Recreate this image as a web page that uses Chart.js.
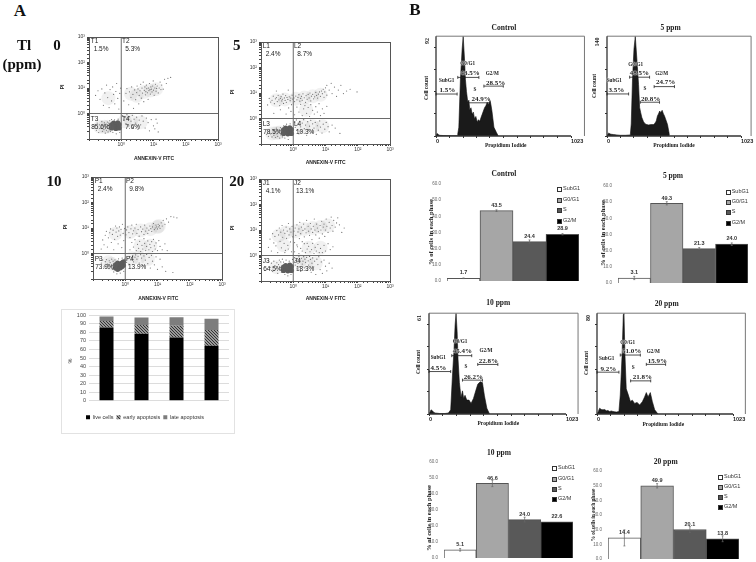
<!DOCTYPE html>
<html><head><meta charset="utf-8">
<script src="https://cdn.jsdelivr.net/npm/chart.js@4"></script>
<style>
html,body{margin:0;padding:0;background:#fff}
#page{position:absolute;left:0;top:0;width:756px;height:562px;overflow:hidden;background:#fff;filter:blur(0.3px)}
canvas{position:absolute}
.t{position:absolute;white-space:nowrap;line-height:1;color:#222}
.sw{position:absolute;width:3px;height:3px;border:0.8px solid #333}
.bx{position:absolute;border:1px solid #e2e2e2}
</style></head><body><div id="page"></div>
<script>
// ---------- Panel A: flow cytometry quadrants (PI vs Annexin-V)
const p0Sparse=[[1.2,3.1],[1.4,6.2],[1.5,9.5],[1.7,2.2],[1.8,7.1],[2.0,4.3],[2.1,11],[2.3,5.6],[2.4,1.6],[2.6,8.4],[2.8,3.5],[3.0,6.6],[3.1,12],[3.3,9.2],[3.5,2.4],[3.6,5.1],[3.8,7.8],[4.0,14],[4.2,4.0],[4.4,9.9],[4.6,6.3],[4.8,17],[5.0,2.9],[5.2,8.1],[5.4,11],[5.6,5.4],[5.8,7.2],[6.0,13],[6.2,9.4],[6.5,6.5],[6.8,3.6],[7.0,10],[7.2,7.9],[7.5,15],[7.8,8.6],[8.0,5.8],[8.3,11],[8.6,9.0],[9,7],[9.4,12],[9.8,19],[10,8.2],[10.5,5.2],[11,10],[11.5,14],[12,7.5],[12.5,9.6],[13,12],[14,6.4],[15,10],[16,17],[17,8.7],[18,13],[20,9],[22,22],[25,15],[28,24],[34,26],
[0.16,5.1],[0.19,7.8],[0.22,3.6],[0.25,9.2],[0.28,2.1],[0.31,6.4],[0.35,13],[0.38,4.2],[0.42,1.7],[0.45,8.7],[0.5,3.1],[0.54,11],[0.58,5.6],[0.63,2.4],[0.68,7.3],[0.72,15],[0.78,3.9],[0.84,1.5],[0.9,6.1],[0.96,9.8],
[1.1,0.82],[1.2,0.55],[1.3,0.7],[1.4,0.4],[1.5,0.9],[1.6,0.62],[1.7,0.33],[1.8,0.75],[2.0,0.5],[2.2,0.85],[2.3,0.28],[2.5,0.6],[2.8,0.42],[3.0,0.72],[3.3,0.24],[3.6,0.55],[4,0.36],[4.4,0.8],[4.8,0.5],[5.5,0.27],[6,0.66],[6.8,0.44],[7.5,0.21],[8.5,0.58],[10,0.33],[11,0.25],[12,0.6],[13,0.42],[14,0.19],
[0.15,0.31],[0.17,0.22],[0.18,0.42],[0.2,0.18],[0.21,0.36],[0.23,0.27],[0.25,0.48],[0.26,0.2],[0.28,0.33],[0.29,0.24],[0.3,0.43],[0.32,0.17],[0.33,0.29],[0.34,0.38],[0.35,0.22],[0.37,0.46],[0.38,0.26],[0.39,0.19],[0.4,0.34],[0.41,0.42],[0.42,0.23],[0.44,0.52],[0.46,0.2],[0.5,0.58],[0.55,0.18],[0.62,0.56],[0.7,0.16],[0.8,0.6],[0.9,0.18]];
const p0Core=[[0.5,0.27],[0.5,0.36],[0.58,0.3],[0.58,0.42],[0.68,0.26],[0.68,0.36],[0.78,0.31],[0.78,0.43],[0.86,0.27],[0.86,0.37]];
const p0Haze=[[8,8],[5,7],[12,9],[3,5],[2,6],[0.4,4],[2,0.5],[4,0.45],[0.3,0.3],[0.22,0.3],[0.38,0.3],[1.3,0.5]];

const p5Sparse=[[0.16,3.4],[0.18,6.1],[0.2,4.4],[0.22,5.2],[0.24,7.5],[0.26,3.8],[0.28,5.9],[0.3,6.6],[0.32,4.6],[0.34,8.1],[0.36,5.4],[0.38,3.2],[0.4,6.2],[0.42,7.2],[0.44,4.9],[0.46,5.7],[0.48,9.1],[0.5,3.9],[0.53,6.4],[0.56,5.1],[0.58,7.9],[0.61,4.3],[0.64,6.7],[0.68,5.6],[0.72,2.6],[0.75,7.1],[0.8,5],[0.84,6.3],[0.88,3.5],[0.92,8.2],[0.96,5.8],[0.25,1.6],[0.4,2.2],[0.6,1.5],[0.85,1.9],[0.3,12],[0.7,13],
[1.05,6.4],[1.1,4.6],[1.2,7.6],[1.3,5.4],[1.4,6.7],[1.5,8.6],[1.6,4.8],[1.7,6.1],[1.8,7.4],[1.9,5.2],[2.0,9.3],[2.2,6.5],[2.4,4.3],[2.5,7.9],[2.7,5.7],[2.9,8.8],[3.1,6.4],[3.3,10],[3.5,4.9],[3.7,7.5],[4,8.9],[4.3,5.9],[4.6,7.1],[5,10.5],[5.3,8.0],[5.7,6.3],[6,9],[6.5,11],[7,7.4],[7.5,12],[8,9.4],[8.5,14],[9,6.8],[9.5,11],[10,16],[11,20],[11,8.2],[13,13],[15,24],[16,9.5],[19,17],[22,7.4],[25,13],[30,20],[36,9.5],[45,12],[58,14],[95,11],
[1.1,1.4],[1.3,2.8],[1.5,1.8],[1.7,3.6],[1.9,1.3],[2.1,2.4],[2.3,3.2],[2.6,1.6],[2.9,2.7],[3.2,1.2],[3.5,3.5],[4,2.1],[4.5,1.5],[5,2.9],[5.6,1.8],[6.3,3.8],[7,1.3],[8,2.4],[9,1.6],[11,3],
[1.1,0.72],[1.15,0.45],[1.25,0.88],[1.3,0.34],[1.4,0.6],[1.5,0.25],[1.6,0.78],[1.7,0.47],[1.8,0.31],[1.9,0.66],[2.1,0.9],[2.2,0.4],[2.4,0.55],[2.6,0.22],[2.8,0.75],[3,0.36],[3.2,0.5],[3.5,0.85],[3.8,0.28],[4,0.62],[4.4,0.42],[4.8,0.7],[5.2,0.24],[5.6,0.52],[6,0.35],[6.6,0.8],[7,0.46],[7.8,0.27],[8.5,0.6],[9.5,0.38],[10.5,0.7],[12,0.48],[13,0.3],[16,0.55],[20,0.42],[28,0.26],
[0.15,0.24],[0.17,0.2],[0.18,0.32],[0.2,0.25],[0.22,0.19],[0.23,0.37],[0.25,0.22],[0.26,0.3],[0.28,0.18],[0.3,0.42],[0.31,0.25],[0.33,0.2],[0.34,0.35],[0.36,0.28],[0.38,0.17],[0.4,0.44],[0.41,0.23],[0.43,0.32],[0.46,0.19],[0.5,0.52],[0.55,0.17],[0.62,0.6],[0.7,0.15],[0.8,0.62]];
const p5Core=[[0.5,0.26],[0.5,0.36],[0.58,0.3],[0.58,0.42],[0.68,0.25],[0.68,0.36],[0.78,0.3],[0.78,0.43],[0.88,0.26],[0.88,0.37]];
const p5Haze=[[0.3,5.2],[0.55,5.6],[1.2,6],[2.2,6.6],[4,7.4],[7,8.5],[2.5,2.2],[2,0.5],[4,0.5],[8,0.5],[0.3,0.27],[0.22,0.26],[0.38,0.28]];

const p10Sparse=[[0.18,1.5],[0.2,3.4],[0.22,2.2],[0.24,5.2],[0.26,7.4],[0.28,1.8],[0.3,4.1],[0.33,6.5],[0.35,9.2],[0.37,2.7],[0.4,5.6],[0.42,8.2],[0.44,1.4],[0.47,3.6],[0.5,12],[0.52,6.9],[0.55,10],[0.58,4.7],[0.6,2.4],[0.63,7.7],[0.66,11],[0.7,5.3],[0.74,8.9],[0.78,1.7],[0.82,14],[0.86,6.1],[0.9,3.2],[0.95,9.5],
[1.05,5.4],[1.1,8.4],[1.2,11],[1.3,6.6],[1.4,4.2],[1.5,9.3],[1.6,13],[1.7,5.9],[1.8,7.8],[2,10],[2.2,14],[2.3,6.2],[2.5,8.7],[2.7,4.8],[3,11],[3.2,7.2],[3.5,9.1],[3.8,5.6],[4,13],[4.3,7.6],[4.7,10],[5,6.2],[5.4,8.2],[5.8,12],[6.2,9.4],[6.6,7.3],[7,11],[7.5,15],[8,8.7],[8.5,10],[9,13],[9.5,11],[10,9.2],[10.5,14],[11,11],[11.5,12.5],[12,9.7],[13,16],[14,12],[15,20],[17,14],[19,23],[22,17],[26,28],[32,27],[40,25],
[1.4,1.4],[1.6,2.7],[1.8,1.8],[2,3.5],[2.2,1.3],[2.4,2.3],[2.6,1.6],[2.8,3],[3,1.2],[3.3,2.1],[3.5,1.5],[3.8,3.8],[4,2.5],[4.3,1.3],[4.6,1.9],[5,3.1],[5.4,1.4],[5.8,2.3],[6.2,1.7],[6.6,2.9],[7,1.2],[7.5,3.6],[8,2],[8.5,1.5],[9,2.6],[10,1.3],[11,3.2],[12,1.9],[14,1.4],[17,2.4],[20,1.3],
[1.1,0.45],[1.2,0.62],[1.3,0.38],[1.4,0.75],[1.5,0.55],[1.6,0.68],[1.7,0.82],[1.8,0.47],[2,0.72],[2.1,0.88],[2.3,0.6],[2.5,0.78],[2.7,0.42],[3,0.9],[3.2,0.66],[3.5,0.34],[3.8,0.8],[4.2,0.55],[4.6,0.92],[5,0.4],[5.5,0.7],[6,0.27],[6.5,0.85],[7,0.5],[8,0.36],[9,0.74],[10,0.24],[12,0.6],[14,0.3],[18,0.2],[30,0.18],
[0.16,0.62],[0.18,0.42],[0.2,0.55],[0.22,0.3],[0.24,0.48],[0.26,0.58],[0.28,0.38],[0.3,0.26],[0.32,0.52],[0.34,0.44],[0.36,0.32],[0.38,0.6],[0.4,0.24],[0.42,0.5],[0.44,0.19],[0.48,0.56],[0.55,0.16],[0.62,0.62],[0.7,0.17],[0.8,0.66],[0.9,0.2],[0.95,0.6]];
const p10Core=[[0.5,0.27],[0.5,0.36],[0.58,0.24],[0.58,0.33],[0.58,0.42],[0.68,0.27],[0.68,0.37],[0.78,0.3],[0.78,0.42],[0.88,0.35],[0.88,0.47]];
const p10Haze=[[0.5,6],[1.4,7],[3,8],[6,9],[10,11],[11,12],[3,2],[6,2],[1.6,0.65],[2.6,0.7],[5,0.6],[0.3,0.45],[0.38,0.4]];

const p20Sparse=[[0.17,2.1],[0.19,4.4],[0.21,1.5],[0.23,7.2],[0.25,3.1],[0.27,5.6],[0.29,2.4],[0.31,9.5],[0.33,1.3],[0.35,6.4],[0.37,12],[0.39,3.6],[0.41,8.2],[0.43,2],[0.45,15],[0.47,5.2],[0.5,10],[0.52,3],[0.55,7.4],[0.57,1.6],[0.6,13],[0.62,4.7],[0.65,9.1],[0.68,2.5],[0.71,18],[0.74,6.4],[0.78,11],[0.82,3.4],[0.85,8.3],[0.88,1.4],[0.92,14],[0.96,5.4],
[1.05,9],[1.1,3.2],[1.15,12],[1.2,6.2],[1.3,16],[1.35,2.2],[1.4,8.4],[1.5,11],[1.55,4.6],[1.6,20],[1.7,7.2],[1.8,13],[1.9,3.5],[2,9.6],[2.1,17],[2.2,5.4],[2.3,11],[2.5,7.8],[2.6,24],[2.7,3],[2.9,14],[3,9],[3.2,6.2],[3.4,18],[3.6,11],[3.8,4.2],[4,8],[4.2,14],[4.5,27],[4.7,10],[5,6.4],[5.3,17],[5.6,12],[6,8.7],[6.4,4.8],[6.8,15],[7.2,10],[7.6,22],[8,7],[8.5,13],[9,17],[9.5,5.6],[10,10],[10.5,27],[11,14],[12,8],[13,20],[14,12],[15,32],[16,15],[17,9],[18,24],[20,13],[22,19],[24,30],[27,16],[32,8],[38,12],
[0.55,1.3],[0.7,1.8],[1.1,1.4],[1.3,2.6],[1.5,1.2],[1.7,1.9],[1.9,1.5],[2.2,2.9],[2.4,1.3],[2.7,1.8],[3,2.3],[3.3,1.4],[3.7,1.7],[4,3],[4.4,1.2],[4.8,2.1],[5.2,1.5],[5.8,2.7],[6.4,1.3],[7,1.9],[8,1.3],[9,2.5],[10,1.5],[12,2.9],[14,1.7],[17,2.2],
[1.1,0.82],[1.15,0.42],[1.2,0.64],[1.3,0.3],[1.35,0.75],[1.4,0.5],[1.5,0.9],[1.55,0.36],[1.6,0.66],[1.7,0.24],[1.8,0.78],[1.9,0.46],[2,0.6],[2.1,0.9],[2.2,0.33],[2.3,0.72],[2.4,0.54],[2.6,0.84],[2.7,0.27],[2.9,0.62],[3,0.42],[3.2,0.92],[3.4,0.7],[3.6,0.22],[3.8,0.5],[4,0.8],[4.3,0.36],[4.6,0.6],[5,0.18],[5.4,0.72],[5.8,0.44],[6.2,0.9],[6.8,0.28],[7.4,0.56],[8,0.2],[9,0.66],[10,0.38],[11,0.25],[13,0.5],[16,0.32],
[0.17,0.62],[0.19,0.34],[0.21,0.5],[0.23,0.24],[0.25,0.6],[0.27,0.4],[0.29,0.3],[0.31,0.52],[0.33,0.2],[0.35,0.44],[0.37,0.66],[0.39,0.28],[0.41,0.56],[0.43,0.22],[0.46,0.72],[0.5,0.55],[0.55,0.18],[0.6,0.66],[0.68,0.16],[0.75,0.6],[0.85,0.18],[0.95,0.7]];
const p20Core=[[0.5,0.26],[0.5,0.35],[0.58,0.3],[0.58,0.4],[0.68,0.25],[0.68,0.35],[0.78,0.3],[0.78,0.42],[0.88,0.26],[0.88,0.37]];
const p20Haze=[[0.35,6],[0.6,8],[1.2,9],[2.2,11],[4,12],[7,13],[12,15],[0.5,2.5],[3,2],[7,2],[1.6,0.6],[2.6,0.55],[5,0.5],[0.3,0.35]];

const quadNames=[["T1","T2","T3","T4"],["L1","L2","L3","L4"],["P1","P2","P3","P4"],["J1","J2","J3","J4"]];
const quadPct=[["1.5%","5.3%","85.6%","7.6%"],["2.4%","8.7%","78.5%","10.3%"],["2.4%","9.8%","73.9%","13.9%"],["4.1%","13.1%","64.5%","18.3%"]];
const doseMarks=["0","5","10","20"];

// ---------- Panel A: stacked bars
const doseCats=["0 ppm","5 ppm","10 ppm","20 ppm"];
const liveCells=[85.6,78.5,73.9,64.5];
const earlyApop=[7.6,10.3,13.9,18.3];
const lateApop=[5.3,8.7,9.8,13.1];

// ---------- Panel B: DNA histograms (channel, count)
const ctlCh=[0,6,14,20,30,60,120,160,165,173,185,198,206,216,223,231,241,249,256,265,274,283,292,302,312,322,332,341,350,359,368,378,388,398,409,416,424,439,459,472];
const ctlCt=[1,2,2,1,0.6,0.4,0.3,0.3,2,8,52,80,92,71,52,41,31,33,24,26,20,22,16,18,13,15,13.5,17,20,23,26,28,31,29,33,29,23,8,3,0];
const p5Ch=[0,6,13,30,50,75,100,140,178,185,195,206,216,228,241,249,257,266,279,292,304,317,336,355,366,376,385,393,402,411,421,431,439,447,462,477];
const p5Ct=[1,3,4,2.5,2,1.5,1,1,1.5,17,81,122,140,108,72,40,33,26,20,17,16,15.5,16,16,18,21,28,31,35,33,36,31,28,24,16,1];
const p10Ch=[0,8,15,25,35,45,80,120,145,162,175,187,195,202,210,217,227,239,250,259,269,282,299,314,332,349,364,382,399,414,432,452];
const p10Ct=[0.5,1,2.5,2,1,0.6,0.3,0.3,0.6,2.5,23,39,54,61,50,33,19,10,14,9.4,11.3,8.4,8.4,6.4,9.4,14,18,19.5,19,11,3.5,0];
const p20Ch=[0,10,20,32,45,58,70,82,95,108,120,132,145,165,175,188,198,203,210,220,236,251,266,283,301,321,341,358,371,384,401,416,434,459];
const p20Ct=[0,2,4.6,3.6,3.3,3.5,2.5,2.8,2,2.4,2,1.8,1.5,2,15,45,79,80,48,20,15,10,11,8.4,9.2,7.2,9.7,13.5,17,13.5,17,10,3.3,0];

const histTitles=["Control","5 ppm","10 ppm","20 ppm"];
const histMax=[92,140,61,80];
const gateNames=["SubG1","G0/G1","S","G2/M"];
const ctlGates=[[0,160,38.7],[165,325,54],[241,409,30.6],[363,510,46]];
const p5Gates=[[0,165,59],[173,325,82.5],[254,401,47.4],[360,515,69.3]];
const p10Gates=[[0,162,25.7],[170,319,35.3],[250,399,20.5],[364,514,30]];
const p20Gates=[[0,165,33.2],[175,326,46.8],[253,404,26.3],[371,516,39.4]];
const gatePct=[["1.5%","43.5%","24.9%","28.5%"],["3.5%","48.5%","20.8%","24.7%"],["4.5%","45.4%","26.2%","22.8%"],["9.2%","51.0%","21.8%","15.9%"]];
const channelTicks=[0,102,205,307,409,512,614,716,818,921,1023];

// ---------- Panel B: phase bars
const phases=["SubG1","G0/G1","S","G2/M"];
const ctlPhase=[1.7,43.5,24.4,28.9];
const p5Phase=[3.1,49.3,21.3,24.0];
const p10Phase=[5.1,46.6,24.0,22.6];
const p20Phase=[14.4,49.9,20.1,13.8];
const ctlErr=[0.2,0.5,1,0.4];
const p5Err=[1,1,0.6,0.8];
const p10Err=[0.8,2,1.5,0];
const p20Err=[5.5,1.5,2,2];

// ---------- layout
const page=document.getElementById('page');
const SERIF='"Liberation Serif","DejaVu Serif",serif', SANS='"Liberation Sans","DejaVu Sans",sans-serif';
function T(s,x,y,size,o={}){
  const e=document.createElement('span');e.className='t';e.textContent=s;
  e.style.cssText=`left:${x}px;top:${y}px;font:${o.bold?'bold ':''}${size}px ${o.font||SANS};color:${o.color||'#222'};line-height:1;transform:translate(${o.left?'0':'-50%'},-50%)${o.rot?' rotate(-90deg)':''}${o.halo?';text-shadow:0 0 1.2px #fff,0 0 1.2px #fff,0 0 1.2px #fff':''}`;
  page.appendChild(e);
}
function mk(x,y,w,h){const c=document.createElement('canvas');c.width=w;c.height=h;c.style.left=x+'px';c.style.top=y+'px';c.style.width=w+'px';c.style.height=h+'px';page.appendChild(c);return c;}
Chart.defaults.animation=false;Chart.defaults.responsive=false;Chart.defaults.devicePixelRatio=1;

const framePlugin={id:'frame',afterDatasetsDraw(ch,a,o){
  const {ctx,chartArea:r,scales:{x,y}}=ch;ctx.save();
  if(o.quad){ctx.strokeStyle='#6a6a6a';ctx.lineWidth=1;ctx.beginPath();
    const vx=x.getPixelForValue(1),hy=y.getPixelForValue(1);
    ctx.moveTo(vx,r.top);ctx.lineTo(vx,r.bottom);ctx.moveTo(r.left,hy);ctx.lineTo(r.right,hy);ctx.stroke();
    ctx.strokeStyle='#555';ctx.strokeRect(r.left+.5,r.top+.5,r.width,r.height);}
  if(o.hist){const xr=x.getPixelForValue(o.end);
    ctx.strokeStyle='#777';ctx.lineWidth=1;ctx.beginPath();ctx.moveTo(r.left,r.top);ctx.lineTo(xr,r.top);ctx.lineTo(xr,r.bottom);ctx.stroke();
    ctx.strokeStyle='#333';ctx.lineWidth=1.3;ctx.beginPath();ctx.moveTo(r.left,r.top);ctx.lineTo(r.left,r.bottom);ctx.lineTo(r.right,r.bottom);ctx.stroke();
    ctx.strokeStyle='#222';ctx.lineWidth=0.8;
    o.gates.forEach(g=>{const a=x.getPixelForValue(g[0]),b=x.getPixelForValue(g[1]),l=y.getPixelForValue(g[2]);
      ctx.beginPath();ctx.moveTo(a,l);ctx.lineTo(b,l);ctx.moveTo(a,l-1.5);ctx.lineTo(a,l+1.5);ctx.moveTo(b,l-1.5);ctx.lineTo(b,l+1.5);ctx.stroke();});}
  ctx.restore();}};
const barNotes={id:'barNotes',afterDatasetsDraw(ch,a,o){
  if(!o.err)return;const {ctx,scales:{y}}=ch,m=ch.getDatasetMeta(0),d=ch.data.datasets[0].data;ctx.save();
  ctx.strokeStyle='#666';ctx.lineWidth=.7;ctx.fillStyle='#333';ctx.font='bold 5.5px '+SANS;ctx.textAlign='center';ctx.textBaseline='middle';
  m.data.forEach((b,i)=>{const e=o.err[i];
    if(e>0){const t=y.getPixelForValue(d[i]+e),u=y.getPixelForValue(d[i]-e);ctx.beginPath();ctx.moveTo(b.x,t);ctx.lineTo(b.x,u);ctx.moveTo(b.x-1,t);ctx.lineTo(b.x+1,t);ctx.moveTo(b.x-1,u);ctx.lineTo(b.x+1,u);ctx.stroke();}
    ctx.fillText(d[i].toFixed(1),b.x,b.y-5.3);});
  ctx.restore();}};

// ---------- scatter plots
const sup={'0':'⁰','1':'¹','2':'²','3':'³'};
function logTick(v){const l=Math.log10(v);return (v>=1&&Math.abs(l-Math.round(l))<1e-6)?'10'+sup[Math.round(l)]:'';}
function scatter(idx,pts,core,haze,L,TT,R,B,peX,peY,anX,anY){
  const m={l:24,r:12,t:6,b:14};
  new Chart(mk(L-m.l,TT-m.t,R-L+m.l+m.r,B-TT+m.t+m.b),{type:'scatter',plugins:[framePlugin],
    data:{datasets:[
      {data:haze.map(p=>({x:p[0],y:p[1]})),pointRadius:7,pointBorderWidth:0,backgroundColor:'rgba(120,120,120,0.1)'},
      {data:pts.map(p=>({x:p[0],y:p[1]})),pointRadius:.6,pointBorderWidth:0,backgroundColor:'#707070'},
      {data:core.map(p=>({x:p[0],y:p[1]})),pointRadius:2.6,pointBorderWidth:0,backgroundColor:'#5c5c5c'}]},
    options:{layout:{padding:{top:m.t,right:m.r}},plugins:{legend:{display:false},tooltip:{enabled:false},frame:{quad:true}},
      scales:{
        x:{type:'logarithmic',min:.1,max:1000,afterFit:s=>{s.height=m.b},border:{display:false},
          grid:{drawOnChartArea:false,tickLength:2,tickColor:'#444'},
          ticks:{autoSkip:false,maxRotation:0,padding:1,color:'#333',font:{size:5,family:SANS},callback:logTick}},
        y:{type:'logarithmic',min:.1,max:1000,afterFit:s=>{s.width=m.l},border:{display:false},
          grid:{drawOnChartArea:false,tickLength:2,tickColor:'#444'},
          ticks:{autoSkip:false,padding:2,color:'#333',font:{size:5,family:SANS},callback:logTick}}}}});
  const vx=L+(R-L)/4,hy=B-(B-TT)/4,n=quadNames[idx],p=quadPct[idx];
  const off=s=>s.length>=5?2.7:4;
  T(n[0],L+1.7,TT+4.7,6.5,{left:1});T(p[0],L+4.7,TT+12.7,6.5,{left:1});
  T(n[1],vx+.7,TT+4.7,6.5,{left:1});T(p[1],vx+off(p[1]),TT+12.7,6.5,{left:1});
  T(n[2],L+1.7,hy+5.5,6.5,{left:1});T(p[2],L+2.2,hy+13.4,6.5,{left:1});
  T(n[3],vx+.7,hy+5.5,6.5,{left:1});T(p[3],vx+off(p[3]),hy+13.4,6.5,{left:1});
  T('PI',peX,peY,5,{bold:1,rot:1});T('ANNEXIN-V FITC',anX,anY,5,{bold:1});
}
scatter(0,p0Sparse,p0Core,p0Haze,89,36,218,139,61.7,87,154,157.7);
scatter(1,p5Sparse,p5Core,p5Haze,261,41,390,144,232,91.7,325.7,162.3);
scatter(2,p10Sparse,p10Core,p10Haze,93,176,222,279,65,227.3,158.3,297.7);
scatter(3,p20Sparse,p20Core,p20Haze,261,178,390,281,232,228,325.7,298.3);

// ---------- stacked bar
const hatch=(()=>{const c=document.createElement('canvas');c.width=c.height=3;const g=c.getContext('2d');g.fillStyle='#9a9a9a';g.fillRect(0,0,3,3);g.fillStyle='#333';g.fillRect(0,0,1,1);g.fillRect(1,1,1,1);g.fillRect(2,2,1,1);return g.createPattern(c,'repeat');})();
const box=document.createElement('div');box.className='bx';box.style.cssText+='left:61px;top:309px;width:172px;height:123px';page.appendChild(box);
(()=>{const L=89,TT=315,R=229,B=407;
new Chart(mk(61,309,173,121),{type:'bar',
  data:{labels:doseCats,datasets:[
    {label:'live cells',data:liveCells,backgroundColor:'#000'},
    {label:'early apoptosis',data:earlyApop,backgroundColor:hatch},
    {label:'late apoptosis',data:lateApop,backgroundColor:'#7d7d7d'}]},
  options:{layout:{padding:{top:TT-309,right:234-R}},
    datasets:{bar:{barPercentage:.4,categoryPercentage:1}},
    plugins:{tooltip:{enabled:false},legend:{position:'bottom',labels:{boxWidth:4,boxHeight:4,padding:3,color:'#333',font:{size:5.5,family:SANS}}}},
    scales:{
      x:{stacked:true,afterFit:s=>{s.height=10.7},grid:{display:false},border:{display:false},ticks:{padding:2,color:'#444',font:{size:5.5,family:SANS}}},
      y:{stacked:true,min:0,max:100,afterFit:s=>{s.width=L-61},grid:{color:'#dcdcdc',drawTicks:false},border:{display:false},
        ticks:{stepSize:10,autoSkip:false,padding:3,color:'#444',font:{size:5.5,family:SANS}}}}}});
})();
T('%',70.5,361,5.5,{rot:1,color:'#444'});

// ---------- histograms
function hist(idx,ch,ct,gates,L,TT,R,B,frameEnd){
  const m={l:8,r:26,t:4,b:10},M=histMax[idx];
  const yt=[];for(let i=0;i<=9;i++)yt.push(i*M/9);
  new Chart(mk(L-m.l,TT-m.t,R-L+m.l+m.r,B-TT+m.t+m.b),{type:'line',plugins:[framePlugin],
    data:{datasets:[{data:ch.map((c,i)=>({x:c,y:ct[i]})),borderColor:'#111',borderWidth:.6,backgroundColor:'#1a1a1a',fill:'origin',pointRadius:0,tension:0}]},
    options:{layout:{padding:{top:m.t,right:m.r}},plugins:{legend:{display:false},tooltip:{enabled:false},frame:{hist:true,end:frameEnd,gates}},
      scales:{
        x:{type:'linear',min:0,max:1023,afterBuildTicks:s=>{s.ticks=channelTicks.map(v=>({value:v}))},afterFit:s=>{s.height=m.b},border:{display:false},
          grid:{drawOnChartArea:false,tickLength:2,tickColor:'#333'},
          ticks:{autoSkip:false,maxRotation:0,align:'start',padding:0,color:'#222',font:{size:5.5,weight:'bold',family:SANS},callback:v=>(v===0||v===1023)?String(v):''}},
        y:{min:0,max:M,afterBuildTicks:s=>{s.ticks=yt.map(v=>({value:v}))},afterFit:s=>{s.width=m.l},border:{display:false},
          grid:{drawOnChartArea:false,tickLength:2,tickColor:'#333'},ticks:{padding:0,callback:()=>''}}}}});
}
hist(0,ctlCh,ctlCt,ctlGates,436,33,571,136,1125);
hist(1,p5Ch,p5Ct,p5Gates,607,33,741,136,1100);
hist(2,p10Ch,p10Ct,p10Gates,429,310,566,414,1113);
hist(3,p20Ch,p20Ct,p20Gates,597,310,733,414,1116);

const histText=[
 {t:[504,27.7],n:[427.3,40.7],c:[427.3,88],p:[505.7,145.7],g:[[446.7,81],[467.7,64],[475,90],[492.3,74]],v:[[447.3,90.3],[470,73],[481,99],[495.7,82.7]]},
 {t:[670.7,27.7],n:[596.7,42],c:[595,86],p:[674,145.7],g:[[614.3,81],[635.7,64.7],[645,89.3],[661.7,74]],v:[[616.3,90],[639.3,72.7],[650.7,98.7],[665.7,82.3]]},
 {t:[498.3,303.3],n:[419,317.7],c:[419,361.7],p:[498.3,424.3],g:[[438.3,358.3],[460,341.7],[466,366.7],[486,351]],v:[[438.3,368.3],[462.3,351],[473.3,377],[488.3,360.7]]},
 {t:[666.7,304.3],n:[588,318.3],c:[586.7,363.3],p:[663.3,425],g:[[606.7,359.3],[627.7,342.7],[633.3,367.7],[653.3,352.3]],v:[[608.3,369],[631.7,351],[642.3,377.3],[657.3,360.7]]}];
histText.forEach((h,i)=>{
  T(histTitles[i],h.t[0],h.t[1],7.5,{bold:1,font:SERIF});
  T(String(histMax[i]),h.n[0],h.n[1],6,{bold:1,font:SERIF,rot:1});
  T('Cell count',h.c[0],h.c[1],5.5,{bold:1,font:SERIF,rot:1});
  T('Propidium Iodide',h.p[0],h.p[1],5.5,{bold:1,font:SERIF});
  h.g.forEach((q,k)=>T(gateNames[k],q[0],q[1],5.2,{bold:1,font:SERIF,halo:1}));
  h.v.forEach((q,k)=>T(gatePct[i][k],q[0],q[1],7,{bold:1,font:SERIF,halo:1}));
});

// ---------- phase bars
const phaseFill=['#ffffff','#a6a6a6','#595959','#000000'];
function phaseBar(vals,errs,L,TT,R,B){
  const m={l:16,r:4,t:6,b:3};
  new Chart(mk(L-m.l,TT-m.t,R-L+m.l+m.r,B-TT+m.t+m.b),{type:'bar',plugins:[barNotes],
    data:{labels:phases,datasets:[{data:vals,backgroundColor:phaseFill,borderColor:'#555',borderWidth:1,barPercentage:1,categoryPercentage:1}]},
    options:{layout:{padding:{top:m.t,right:m.r}},plugins:{legend:{display:false},tooltip:{enabled:false},barNotes:{err:errs}},
      scales:{
        x:{afterFit:s=>{s.height=m.b},grid:{display:false},border:{display:false},ticks:{display:false}},
        y:{min:0,max:60,afterFit:s=>{s.width=m.l},grid:{display:false},border:{display:false},
          ticks:{stepSize:10,autoSkip:false,padding:-2,color:'#666',font:{size:4.5,family:SANS},callback:v=>v.toFixed(1)}}}}});
}
phaseBar(ctlPhase,ctlErr,447,184,579,281);
phaseBar(p5Phase,p5Err,618,186,748,283);
phaseBar(p10Phase,p10Err,444,462,573,558);
phaseBar(p20Phase,p20Err,608,471,739,559);

const phaseText=[
 {t:['Control',504,174],a:[431,231.7,6.5],sx:559,ty:[189.3,199.7,210.3,220.7]},
 {t:['5 ppm',673,176],a:[603,233,6.5],sx:727.7,ty:[191.7,202,212,222.7]},
 {t:['10 ppm',499,453.3],a:[429.3,518,6.5],sx:554,ty:[468.3,478.7,489,499.3]},
 {t:['20 ppm',665.7,462.3],a:[594.3,515,5.2],sx:720,ty:[476.7,486.7,496.7,506.7]}];
phaseText.forEach(p=>{
  T(p.t[0],p.t[1],p.t[2],7.5,{bold:1,font:SERIF});
  T('% of cells in each phase',p.a[0],p.a[1],p.a[2],{bold:1,font:SERIF,rot:1});
  phases.forEach((n,k)=>{
    const s=document.createElement('div');s.className='sw';s.style.left=(p.sx-2)+'px';s.style.top=(p.ty[k]-2)+'px';s.style.background=phaseFill[k];page.appendChild(s);
    T(n,p.sx+4,p.ty[k],5.5,{left:1,color:'#333'});
  });
});

// ---------- panel marks
T('A',20,10,17,{bold:1,font:SERIF,color:'#111'});
T('B',415,9,17,{bold:1,font:SERIF,color:'#111'});
T('Tl',24,45,15,{bold:1,font:SERIF,color:'#111'});
T('(ppm)',22,64,15,{bold:1,font:SERIF,color:'#111'});
[[57,45],[236.7,45],[54,181],[236.7,181]].forEach((q,i)=>T(doseMarks[i],q[0],q[1],15,{bold:1,font:SERIF,color:'#111'}));
</script></body></html>
